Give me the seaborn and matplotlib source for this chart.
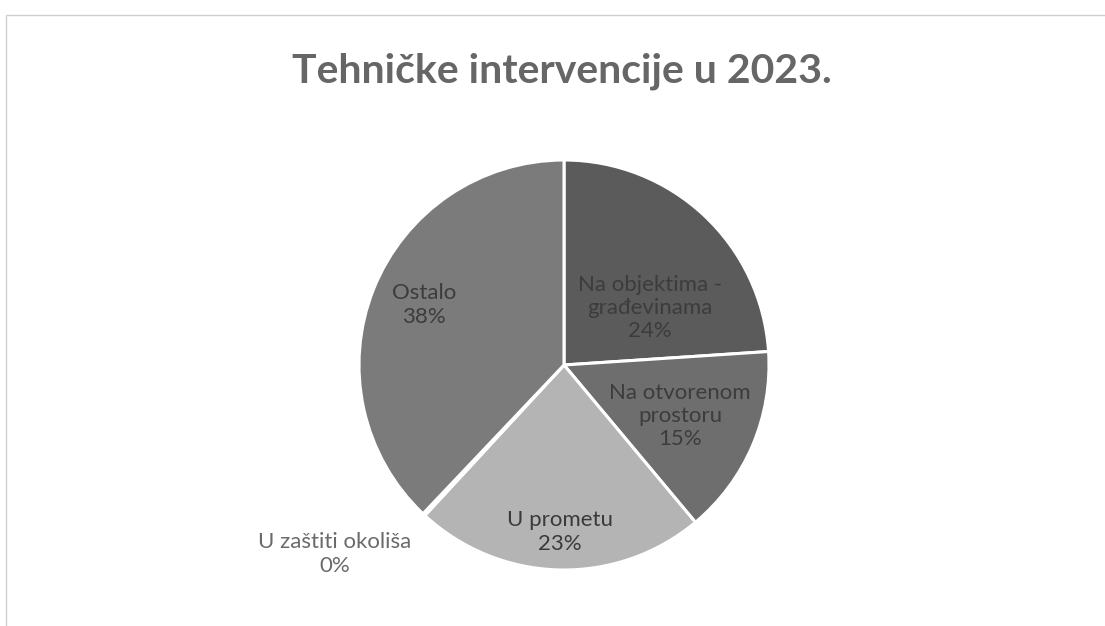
import matplotlib
matplotlib.use("Agg")
import matplotlib.pyplot as plt
import seaborn as sns
from matplotlib.patches import Rectangle

sns.set_theme(style="white")
plt.rcParams['font.family'] = ['Lato', 'DejaVu Sans']

title = "Tehničke intervencije u 2023."
categories = ["Na objektima -\ngrađevinama", "Na otvorenom\nprostoru", "U prometu",
              "U zaštiti okoliša", "Ostalo"]
values = [24, 15, 23, 0.2, 38]
colors = ["#5b5b5b", "#6e6e6e", "#b4b4b4", "#9a9a9a", "#7b7b7b"]
label_colors = ["#3c3c3c", "#3c3c3c", "#3a3a3a", "#6a6a6a", "#3c3c3c"]
# label positions (pixels, relative to pie centre)
label_offsets = [(86, -57), (116, 51), (-4, 167), (-229, 189), (-140, -60)]

W, H = 1105, 626
fig = plt.figure(figsize=(W / 100, H / 100), dpi=100)
fig.patch.set_facecolor("white")

cx, cy, half = 564, 365, 210
ax = fig.add_axes([(cx - half) / W, (H - cy - half) / H, 2 * half / W, 2 * half / H])
ax.pie(values, colors=colors, startangle=90, counterclock=False, radius=205 / half,
       wedgeprops=dict(edgecolor="white", linewidth=2.2))
ax.set_xlim(-1, 1)
ax.set_ylim(-1, 1)
ax.set_aspect("equal")
ax.axis("off")

total = sum(values)
for cat, v, (dx, dy), c in zip(categories, values, label_offsets, label_colors):
    pct = round(v / total * 100)
    ax.text(dx / half, -dy / half, f"{cat}\n{pct}%", ha="center", va="center",
            fontsize=16, color=c, linespacing=1.2)

fig.text(562 / W, 1 - 71 / H, title, ha="center", va="center", fontsize=29.5,
         fontweight="bold", color="#666666")

# thin frame of the chart area
fig.patches.append(Rectangle((6 / W, -0.05), 1.2, 1 - 15 / H + 0.05,
                             transform=fig.transFigure, fill=False,
                             edgecolor="#d0d0d0", linewidth=1.0))

fig.savefig("out.png", dpi=100, facecolor="white")
